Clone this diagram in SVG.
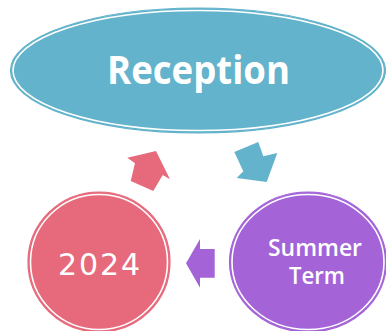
<svg xmlns="http://www.w3.org/2000/svg" width="386" height="331" viewBox="0 0 386 331">
<style>
.ring{fill:none;stroke:#fff;stroke-width:1.6}
.lbl{fill:#fff;font-family:"Open Sans","Noto Sans",sans-serif;text-anchor:middle}
</style>
<rect width="386" height="331" fill="#fff"/>
<g id="connectors">
<polygon points="127.3,157.7 156,151 170,179.3 162.7,175 153.3,191 130.7,181 135,163.3" fill="#E66A7B"/>
<polygon points="234.3,152 258.3,142 263.3,156.3 277.3,153 266.7,182 236.7,178 243.3,171.3" fill="#62B3CB"/>
<polygon points="186,263.3 200,239 200,249 214.7,249 214.7,277.7 200,277.7 200,287.7" fill="#A464D8"/>
</g>
<g id="node-reception">
<ellipse cx="198" cy="70.5" rx="187.5" ry="62.5" fill="#62B3CB" stroke="#62B3CB" stroke-width="1.2"/>
<ellipse class="ring" cx="198" cy="70.5" rx="185" ry="60"/>
<text class="lbl" x="198.5" y="83.5" font-size="39" font-weight="700" textLength="183" lengthAdjust="spacingAndGlyphs">Reception</text>
</g>
<g id="node-2024">
<ellipse cx="99" cy="262" rx="71" ry="70" fill="#E66A7B" stroke="#E66A7B" stroke-width="1.2"/>
<ellipse class="ring" cx="99" cy="262" rx="68.5" ry="67.5"/>
<text class="lbl" x="99" y="275" font-size="30" style="font-family:'DejaVu Sans',sans-serif" textLength="82" lengthAdjust="spacing">2024</text>
</g>
<g id="node-summer">
<ellipse cx="308" cy="262" rx="78.5" ry="70" fill="#A464D8" stroke="#A464D8" stroke-width="1.2"/>
<ellipse class="ring" cx="308" cy="262" rx="76" ry="67.5"/>
<text class="lbl" x="315" y="256" font-size="24" font-weight="600" textLength="94" lengthAdjust="spacingAndGlyphs">Summer</text>
<text class="lbl" x="317" y="284" font-size="24" font-weight="600" textLength="56" lengthAdjust="spacingAndGlyphs">Term</text>
</g>
</svg>
